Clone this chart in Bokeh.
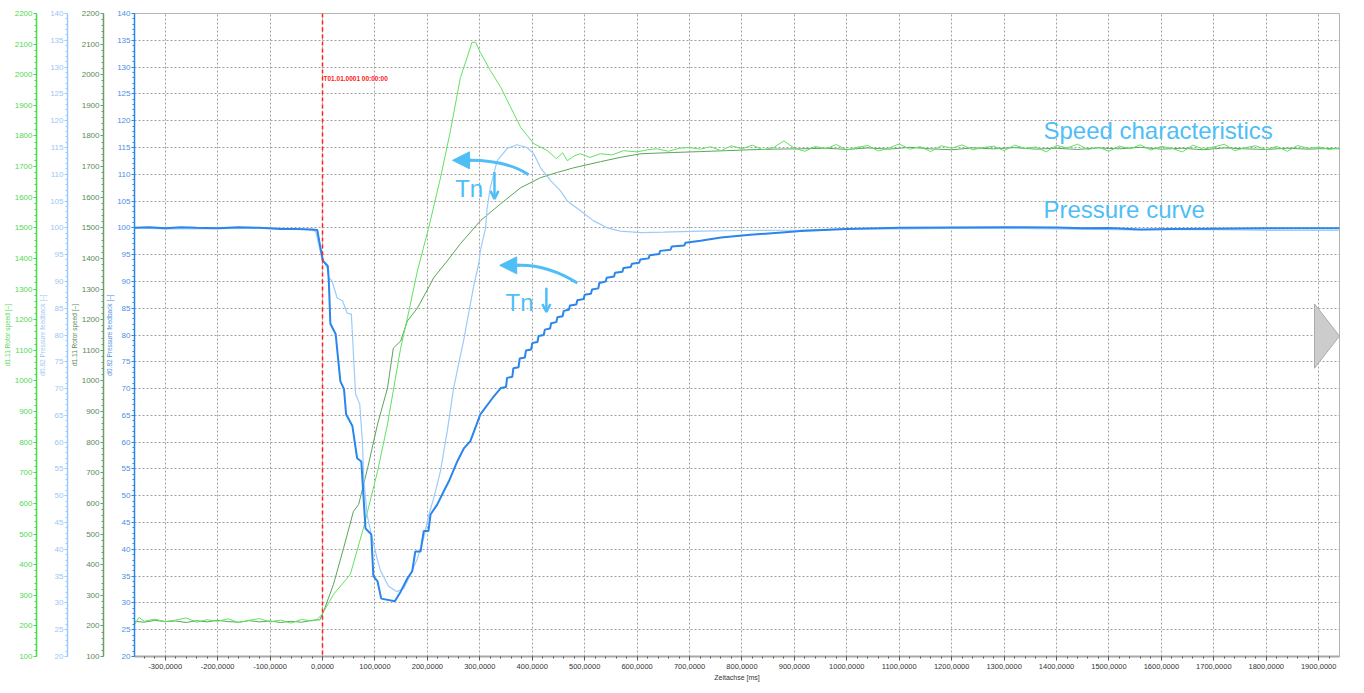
from bokeh.plotting import figure
from bokeh.models import Range1d, LinearAxis, FixedTicker, Span, Label, Arrow, NormalHead, OpenHead
from bokeh.embed import file_html
from bokeh.resources import INLINE

# ---------------- data ----------------
# time axis [ms]
x_ticks = list(range(-300, 2000, 100))
x_tick_labels = {t: f"{t:.4f}".replace(".", ",") for t in x_ticks}
speed_ticks = list(range(100, 2201, 100))
pressure_ticks = list(range(20, 141, 5))

# d0.82 pressure feedback (thick, dark blue)
p1_t = [-358, -330, -300, -270, -240, -200, -160, -120, -80, -50, -20, -10, -4, 1, 10, 12, 15, 25, 34, 41, 45,
        57, 66, 74, 82, 93, 97, 105, 112, 138, 149, 162, 171, 177, 187, 193, 202, 206, 219, 231, 241, 257,
        270, 282, 301, 324, 340, 350, 352, 362, 364, 374, 376, 386, 388, 398, 400, 410, 412, 422, 424, 434,
        436, 446, 448, 458, 460, 470, 472, 484, 486, 498, 500, 512, 514, 526, 528, 540, 542, 556, 558, 572,
        574, 588, 590, 604, 606, 622, 624, 642, 644, 664, 666, 690, 692, 721, 760, 816, 870, 912, 1000,
        1102, 1200, 1300, 1400, 1450, 1500, 1560, 1620, 1700, 1800, 1940]
p1_v = [100.0, 100.1, 99.9, 100.1, 100.0, 99.9, 100.1, 100.0, 99.8, 99.8, 99.7, 99.6, 96.3, 93.8, 92.9, 90.1,
        82.1, 80.2, 71.4, 69.9, 65.2, 63.0, 57.0, 56.4, 43.9, 42.8, 35.0, 34.0, 30.8, 30.3, 32.1, 34.6,
        35.9, 39.6, 39.6, 43.4, 43.4, 46.5, 48.4, 50.8, 52.7, 56.4, 58.9, 60.2, 65.2, 68.2, 70.1, 70.3,
        72.0, 72.2, 73.8, 74.0, 75.6, 75.8, 77.1, 77.3, 78.5, 78.7, 79.8, 80.0, 81.0, 81.2, 82.2, 82.4,
        83.3, 83.5, 84.5, 84.7, 85.5, 85.7, 86.5, 86.7, 87.5, 87.7, 88.5, 88.7, 89.7, 90.0, 90.7, 90.9,
        91.6, 91.8, 92.5, 92.7, 93.3, 93.5, 94.1, 94.3, 94.9, 95.1, 95.7, 95.9, 96.5, 96.7, 97.2, 97.6,
        98.2, 98.7, 99.1, 99.4, 99.8, 100.0, 100.05, 100.1, 100.05, 99.9, 99.95, 99.7, 99.8, 99.85, 99.9, 99.9]

# d0.82 pressure feedback (thin, light blue)
p2_t = [-358, -300, -250, -200, -150, -100, -50, -25, -13, -1, 9, 12, 18, 28, 38, 47, 55, 59, 63, 71, 76, 79,
        85, 93, 104, 111, 126, 142, 155, 168, 181, 193, 203, 212, 225, 238, 250, 270, 289, 298, 301, 311,
        314, 320, 333, 352, 371, 390, 403, 416, 435, 454, 467, 492, 517, 543, 568, 607, 650, 721, 800,
        912, 1000, 1102, 1200, 1293, 1400, 1550, 1650, 1750, 1850, 1940]
p2_v = [100.0, 99.8, 99.8, 99.85, 99.9, 100.0, 99.8, 99.6, 99.4, 94.2, 92.5, 90.7, 90.1, 86.9, 86.4, 84.1,
        83.9, 76.4, 69.0, 67.1, 60.2, 52.7, 46.5, 42.8, 38.3, 35.9, 33.1, 32.1, 32.7, 35.3, 38.3, 42.1,
        46.5, 49.5, 54.6, 62.1, 70.1, 79.4, 89.5, 93.3, 95.7, 100.0, 103.7, 107.5, 112.5, 114.8, 115.5,
        115.0, 113.8, 111.2, 108.8, 106.9, 105.0, 103.2, 101.3, 100.0, 99.4, 99.1, 99.2, 99.4, 99.5,
        99.6, 99.8, 99.8, 99.9, 99.9, 99.8, 99.6, 99.7, 99.6, 99.5, 99.5]

# d1.11 rotor speed (thin, bright green)
s1_t = [-358, -350, -340, -320, -300, -280, -260, -240, -220, -200, -180, -160, -140, -120, -100, -80, -60,
        -40, -20, -10, -1, 21, 53, 78, 105, 124, 149, 162, 181, 202, 225, 244, 263, 276, 285, 292, 301,
        320, 340, 359, 378, 403, 429, 446, 458, 467, 480, 492, 510, 530, 552, 574, 600, 620, 638, 660,
        680, 700, 721,
        740, 760, 780, 800, 820, 840, 860, 880, 900, 920, 940, 960, 980, 1000, 1020, 1040, 1060, 1080,
        1100, 1120, 1140, 1160, 1180, 1200, 1220, 1240, 1260, 1280, 1300, 1320, 1340, 1360, 1380, 1400,
        1420, 1440, 1460, 1480, 1500, 1520, 1540, 1560, 1580, 1600, 1620, 1640, 1660, 1680, 1700, 1720,
        1740, 1760, 1780, 1800, 1820, 1840, 1860, 1880, 1900, 1920, 1940]
s1_v = [205, 228, 215, 222, 214, 219, 226, 212, 220, 215, 223, 211, 218, 224, 213, 219, 209, 221, 216, 222,
        237, 303, 368, 519, 705, 859, 1107, 1206, 1359, 1497, 1663, 1817, 1991, 2057, 2106, 2106, 2073,
        2014, 1959, 1893, 1828, 1775, 1752, 1726, 1745, 1719, 1735, 1742, 1730, 1742, 1738, 1752, 1748,
        1755, 1758, 1750, 1760, 1762, 1757,
        1765, 1752, 1768, 1758, 1770, 1755, 1762, 1784, 1760, 1750, 1766, 1758, 1772, 1754, 1763, 1769,
        1751, 1760, 1774, 1757, 1765, 1749, 1768, 1760, 1771, 1755, 1762, 1767, 1752, 1770, 1759, 1764,
        1748, 1769, 1761, 1773, 1756, 1763, 1750, 1767, 1758, 1771, 1754, 1766, 1760, 1748, 1770, 1757,
        1764, 1773, 1752, 1762, 1768, 1755, 1766, 1750, 1769, 1759, 1764, 1756, 1761]

# d1.11 rotor speed (thin, dark green)
s2_t = [-358, -340, -320, -300, -280, -260, -240, -220, -200, -180, -160, -140, -120, -100, -80, -60, -40,
        -20, -5, 2, 21, 40, 59, 69, 86, 105, 124, 135, 149, 162, 181, 202, 212, 238, 263, 301, 340, 378,
        416, 448, 479, 530, 568, 607, 669, 721, 770, 816, 860, 912,
        960, 1000, 1040, 1080, 1120, 1160, 1200, 1240, 1280, 1320, 1360, 1400, 1440, 1480, 1520, 1560,
        1600, 1640, 1680, 1720, 1760, 1800, 1840, 1880, 1920, 1940]
s2_v = [215, 212, 218, 214, 216, 211, 217, 213, 218, 214, 212, 217, 213, 216, 211, 215, 212, 218, 220,
        247, 336, 453, 574, 597, 715, 859, 977, 1107, 1130, 1196, 1238, 1304, 1337, 1392, 1448, 1523,
        1579, 1631, 1664, 1681, 1696, 1716, 1730, 1742, 1746, 1749, 1752, 1755, 1757, 1758,
        1760, 1756, 1761, 1757, 1763, 1758, 1755, 1761, 1758, 1762, 1757, 1760, 1756, 1761, 1758, 1763,
        1757, 1760, 1755, 1761, 1758, 1756, 1760, 1757, 1759, 1758]

# ---------------- styles ----------------
C_BLUE = "#2a86ea"
C_LBLUE = "#9ccbfb"
C_GREEN = "#5fe35f"
C_DGREEN = "#5aa55a"
C_NOTE = "#4fbef7"
FONT = "Liberation Sans"

p = figure(width=1348, height=685, output_backend="svg", toolbar_location=None,
           x_range=Range1d(-358.6, 1939.7), y_range=Range1d(20, 140),
           min_border_left=134, min_border_right=9, min_border_top=13, min_border_bottom=29,
           background_fill_color="white", border_fill_color="white")
p.extra_y_ranges = {"speed": Range1d(100, 2200)}
p.outline_line_color = "#b4b4b4"
p.outline_line_width = 1


def style_axis(ax, color, label_color, title, ticks, minor):
    ax.ticker = FixedTicker(ticks=ticks, minor_ticks=minor)
    ax.axis_label = title
    ax.axis_label_text_font = FONT
    ax.axis_label_text_font_size = "6.5px"
    ax.axis_label_text_font_style = "normal"
    ax.axis_label_text_color = label_color
    ax.axis_label_standoff = 1
    ax.major_label_text_font = FONT
    ax.major_label_text_font_size = "8px"
    ax.major_label_text_color = label_color
    ax.major_label_standoff = 1
    ax.axis_line_color = color
    ax.axis_line_width = 1.5
    ax.major_tick_line_color = color
    ax.minor_tick_line_color = color
    ax.major_tick_in = 0
    ax.major_tick_out = 3
    ax.minor_tick_in = 0
    ax.minor_tick_out = 2


press_minor = list(range(20, 141, 1))
speed_minor = list(range(100, 2201, 20))

# innermost: blue pressure axis (default left axis)
style_axis(p.yaxis[0], C_BLUE, "#4a90e2", "d0.82 Pressure feedback [–]", pressure_ticks, press_minor)
ax3 = LinearAxis(y_range_name="speed")
style_axis(ax3, "#6a9e6a", "#5a8a5a", "d1.11 Rotor speed [–]", speed_ticks, speed_minor)
p.add_layout(ax3, "left")
ax2 = LinearAxis()
style_axis(ax2, C_LBLUE, "#9cc6f5", "d0.82 Pressure feedback [–]", pressure_ticks, press_minor)
p.add_layout(ax2, "left")
ax1 = LinearAxis(y_range_name="speed")
style_axis(ax1, "#44dd44", "#55d855", "d1.11 Rotor speed [–]", speed_ticks, speed_minor)
p.add_layout(ax1, "left")

xa = p.xaxis[0]
xa.ticker = FixedTicker(ticks=x_ticks, minor_ticks=list(range(-340, 1940, 20)))
xa.major_label_overrides = x_tick_labels
xa.major_label_text_font = FONT
xa.major_label_text_font_size = "7.5px"
xa.major_label_text_color = "#333333"
xa.major_label_standoff = 3
xa.axis_label = "Zeitachse [ms]"
xa.axis_label_text_font = FONT
xa.axis_label_text_font_size = "7px"
xa.axis_label_text_font_style = "normal"
xa.axis_label_text_color = "#333333"
xa.axis_label_standoff = 2
xa.axis_line_color = "#a8a8a8"
xa.axis_line_width = 2
xa.major_tick_line_color = "#555555"
xa.minor_tick_line_color = "#555555"
xa.major_tick_in = 0
xa.major_tick_out = 4
xa.minor_tick_in = 0
xa.minor_tick_out = 2

p.xgrid.grid_line_color = "#a0a0a0"
p.xgrid.grid_line_dash = "2 2"
p.xgrid.grid_line_width = 1
p.ygrid.grid_line_color = "#a0a0a0"
p.ygrid.grid_line_dash = "2 2"
p.ygrid.grid_line_width = 1

# ---------------- curves ----------------
p.line(s2_t, s2_v, y_range_name="speed", line_color=C_DGREEN, line_width=1)
p.line(s1_t, s1_v, y_range_name="speed", line_color=C_GREEN, line_width=1)
p.line(p2_t, p2_v, line_color=C_LBLUE, line_width=1.2)
p.line(p1_t, p1_v, line_color=C_BLUE, line_width=2)

# trigger marker
p.add_layout(Span(location=0, dimension="height", line_color="#ff2020", line_dash="4 3", line_width=1.5))
p.add_layout(Label(x=0, y=127.85, x_offset=1, text="T01.01.0001 00:00:00", text_font=FONT,
                   text_font_size="6.5px", text_font_style="bold", text_color="#ff2020",
                   text_baseline="middle"))

# annotations
p.add_layout(Label(x=1375, y=118.1, text="Speed characteristics", text_font=FONT, text_font_size="24px",
                   text_color=C_NOTE, text_baseline="middle"))
p.add_layout(Label(x=1375, y=103.5, text="Pressure curve", text_font=FONT, text_font_size="24px",
                   text_color=C_NOTE, text_baseline="middle"))
p.add_layout(Label(x=253, y=107.3, text="Tn", text_font=FONT, text_font_size="24px",
                   text_color=C_NOTE, text_baseline="middle"))
p.add_layout(Label(x=349, y=86.0, text="Tn", text_font=FONT, text_font_size="24px",
                   text_color=C_NOTE, text_baseline="middle"))

# curved arrows
p.quadratic(x0=[393, 486], y0=[109.9, 89.7], x1=[280, 372], y1=[112.6, 93.0],
            cx=[352, 428], cy=[112.6, 93.2], line_color=C_NOTE, line_width=3)
p.add_layout(Arrow(end=NormalHead(size=17, fill_color=C_NOTE, line_color=C_NOTE),
                   x_start=284, y_start=112.6, x_end=248, y_end=112.6,
                   line_color=C_NOTE, line_width=3))
p.add_layout(Arrow(end=NormalHead(size=17, fill_color=C_NOTE, line_color=C_NOTE),
                   x_start=376, y_start=93.0, x_end=338, y_end=93.0,
                   line_color=C_NOTE, line_width=3))
# down arrows next to "Tn"
p.add_layout(Arrow(end=OpenHead(size=8, line_color=C_NOTE, line_width=2.5),
                   x_start=328, y_start=110.4, x_end=328, y_end=105.4,
                   line_color=C_NOTE, line_width=2.5))
p.add_layout(Arrow(end=OpenHead(size=8, line_color=C_NOTE, line_width=2.5),
                   x_start=427, y_start=88.8, x_end=427, y_end=84.3,
                   line_color=C_NOTE, line_width=2.5))

# navigation triangle on the right edge
p.patch([1892, 1939.7, 1892], [85.8, 79.8, 73.8], fill_color="#cccccc", line_color="#aaaaaa",
        line_width=1)

open("out.html", "w").write(file_html(p, INLINE))
